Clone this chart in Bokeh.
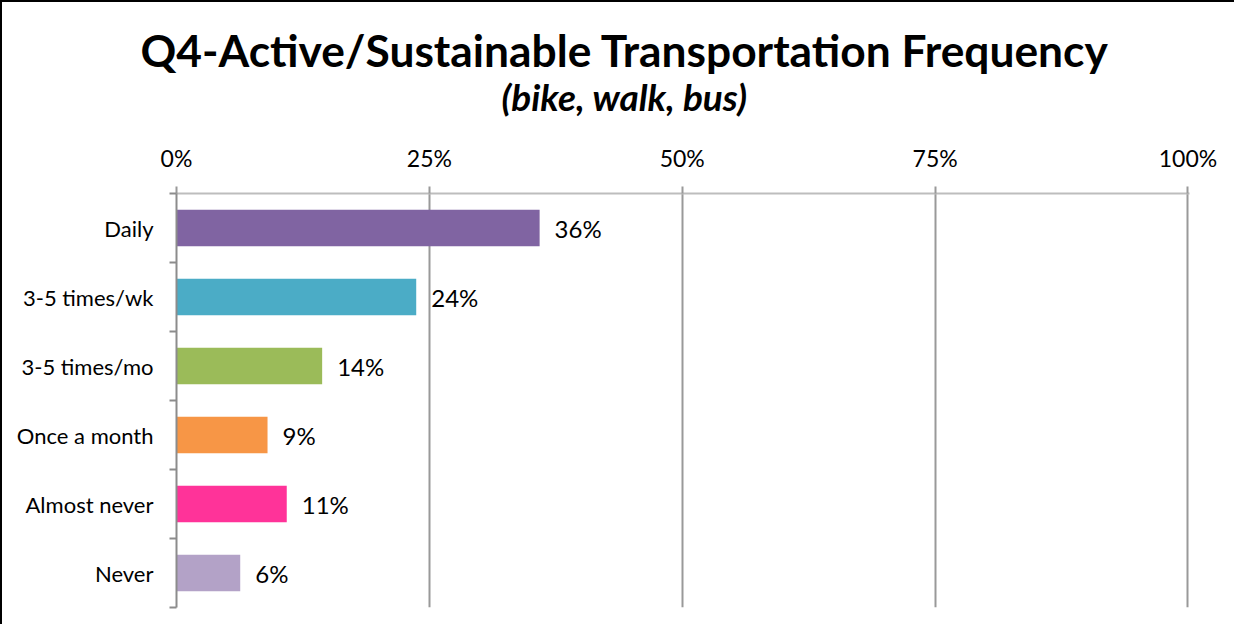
from bokeh.plotting import figure
from bokeh.models import ColumnDataSource, LabelSet, Title, FixedTicker, PrintfTickFormatter, Range1d
from bokeh.core.properties import value
from bokeh.embed import file_html
from bokeh.resources import INLINE

categories = ["Daily", "3-5 times/wk", "3-5 times/mo", "Once a month", "Almost never", "Never"]
percents = [35.9, 23.7, 14.4, 9.0, 10.9, 6.3]
labels = ["36%", "24%", "14%", "9%", "11%", "6%"]
colors = ["#8064A2", "#4BACC6", "#9BBB59", "#F79646", "#FF3399", "#B3A2C7"]
x_ticks = [0, 25, 50, 75, 100]
title_text = "Q4-Active/Sustainable Transportation Frequency"
subtitle_text = "(bike, walk, bus)"

FONT = "Lato"
n = len(categories)
ypos = [n - i - 0.5 for i in range(n)]

src = ColumnDataSource(dict(y=ypos, v=percents, lab=labels, c=colors, cat=categories))

p = figure(width=1234, height=624, output_backend="svg", toolbar_location=None,
           x_range=Range1d(0, 100.15), y_range=Range1d(0, n),
           x_axis_location="above",
           min_border_left=174, min_border_top=191, min_border_right=47, min_border_bottom=19,
           styles={"border-left": "2px solid #000", "border-top": "2px solid #000"})
p.outline_line_color = None
p.background_fill_color = "white"

p.hbar(y="y", right="v", left=0, height=0.53, color="c", line_color=None, source=src)

p.add_layout(LabelSet(x="v", y="y", text="lab", source=src, x_offset=15, text_baseline="middle",
                      text_font=value(FONT), text_font_size="24px", text_color="#000"))

# top axis
xa = p.xaxis[0]
xa.ticker = FixedTicker(ticks=x_ticks)
xa.formatter = PrintfTickFormatter(format="%d%%")
xa.axis_line_color = "#bdbdbd"
xa.axis_line_width = 2
xa.major_tick_line_color = "#999999"
xa.major_tick_line_width = 2
xa.major_tick_out = 7
xa.major_tick_in = 0
xa.minor_tick_line_color = None
xa.major_label_text_font = FONT
xa.major_label_text_font_size = "23px"
xa.major_label_text_color = "#000"
xa.major_label_standoff = 15

# left axis
ya = p.yaxis[0]
ya.ticker = FixedTicker(ticks=ypos, minor_ticks=list(range(n + 1)))
ya.major_label_overrides = {y: c for y, c in zip(ypos, categories)}
ya.axis_line_color = "#8c8c8c"
ya.axis_line_width = 2
ya.major_tick_out = 0
ya.major_tick_in = 0
ya.major_tick_line_color = None
ya.minor_tick_line_color = "#8c8c8c"
ya.minor_tick_line_width = 2
ya.minor_tick_out = 7
ya.minor_tick_in = 0
ya.major_label_text_font = FONT
ya.major_label_text_font_size = "22px"
ya.major_label_text_color = "#000"
ya.major_label_standoff = 16

p.xgrid.ticker = FixedTicker(ticks=x_ticks)
p.xgrid.grid_line_color = "#999999"
p.xgrid.grid_line_width = 2
p.ygrid.grid_line_color = None

p.add_layout(Title(text=subtitle_text, align="left", offset=325, text_font=FONT,
                   text_font_style="bold italic", text_font_size="37px", text_color="#000",
                   standoff=44), "above")
p.add_layout(Title(text=title_text, align="left", offset=-36, text_font=FONT,
                   text_font_style="bold", text_font_size="44.3px", text_color="#000",
                   standoff=-52), "above")

open("out.html", "w").write(file_html(p, INLINE))
